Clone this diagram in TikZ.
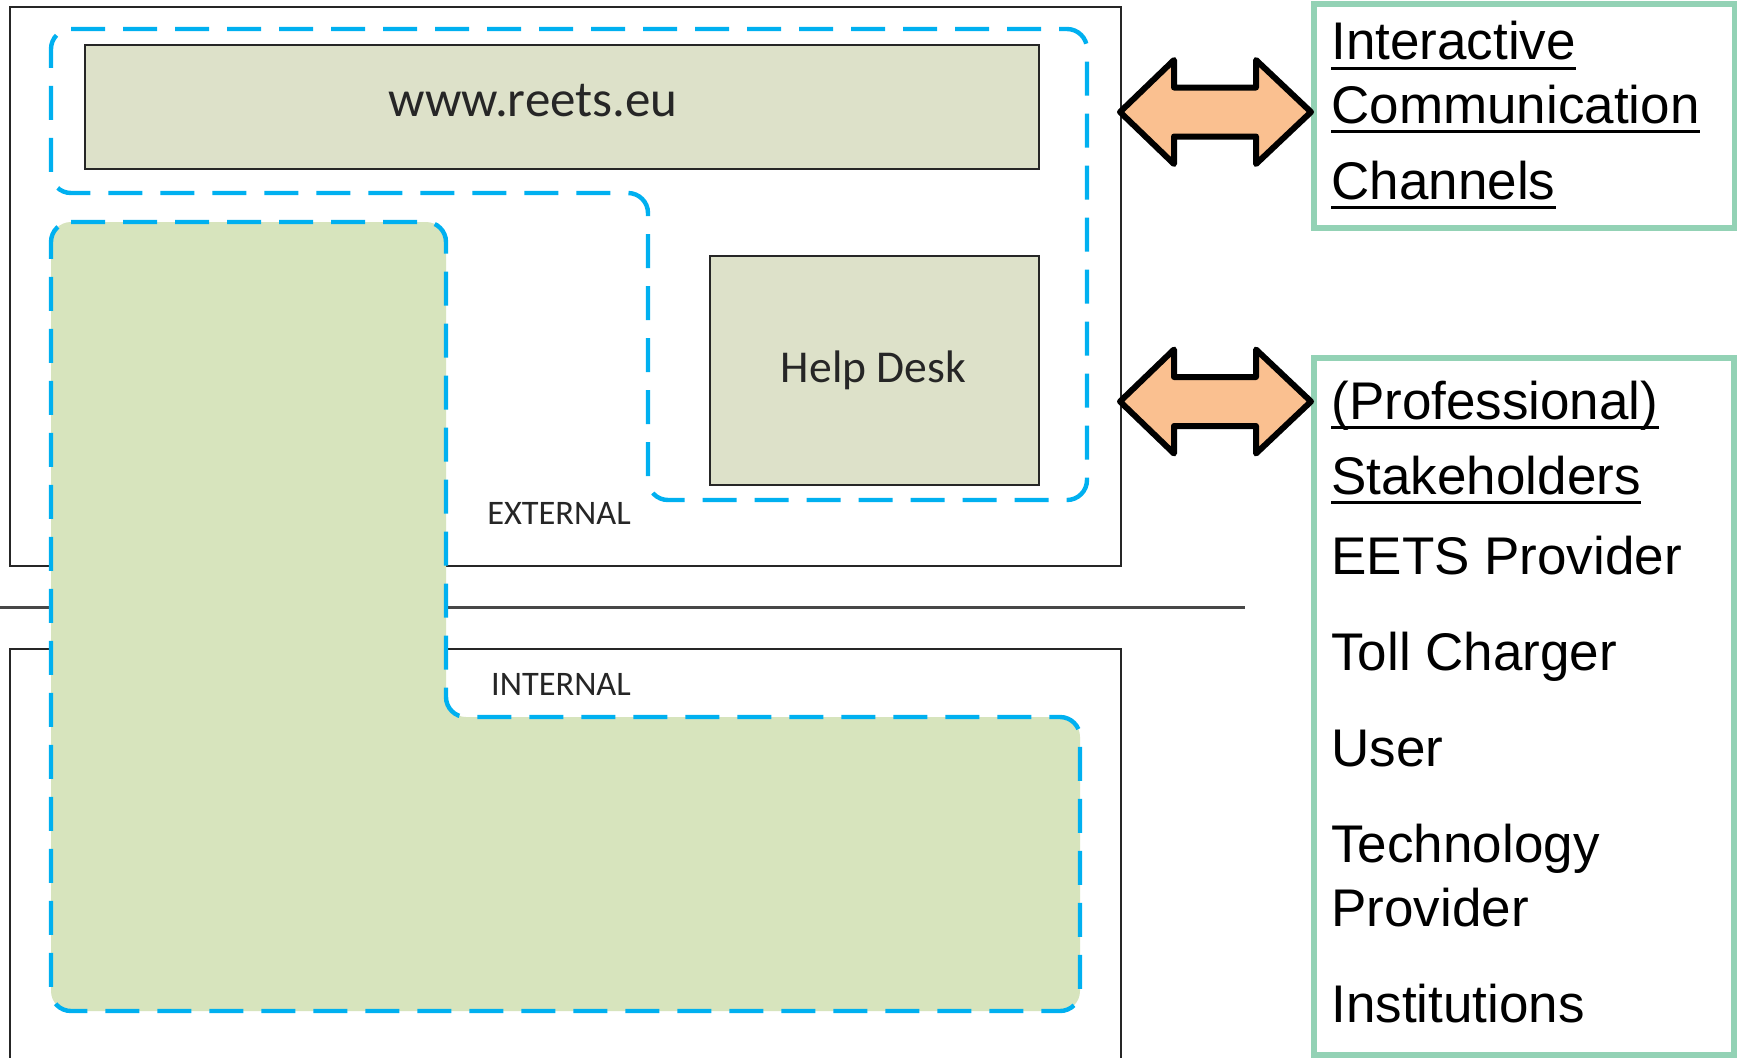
\documentclass[tikz,border=0pt]{standalone}
\usepackage{fontspec}
\setmainfont{Liberation Sans}
\newfontfamily\calib{Carlito}
\definecolor{dashblue}{HTML}{00B0F0}
\definecolor{lfill}{HTML}{D7E4BD}
\definecolor{bfill}{HTML}{DDE1C9}
\definecolor{rborder}{HTML}{93D2B5}
\definecolor{arrfill}{HTML}{FAC090}
\definecolor{framec}{HTML}{262626}
\begin{document}
\begin{tikzpicture}[x=0.5pt,y=-0.5pt,
  frameline/.style={draw=framec,line width=1pt},
  zone/.style={draw=dashblue,line width=2.2pt,dash pattern=on 17pt off 9pt,rounded corners=10pt},
  plainbox/.style={draw=framec,line width=1.2pt,fill=bfill,inner sep=0pt,anchor=north west},
  sidebox/.style={draw=rborder,line width=3.2pt,inner sep=0pt,anchor=north west},
  biarrow/.style={draw=black,line width=3pt,line join=round,fill=arrfill},
  lbl/.style={text=framec,inner sep=0pt,anchor=base},
  rtxt/.style={font=\fontsize{26.5pt}{30pt}\selectfont,inner sep=0pt,anchor=base west},
  ul/.style={line width=1.5pt}
]
\useasboundingbox (0,0) rectangle (1737,1057);
\fill[white] (0,0) rectangle (1737,1057);
% outer frames
\draw[frameline] (10,7) rectangle (1121,566);
\draw[frameline] (10,1080) -- (10,649) -- (1121,649) -- (1121,1080);
\draw[draw=framec!85,line width=1.25pt] (0,607.5) -- (1245,607.5);
% external dashed zone
\draw[zone] (51,29) -- (1087,29) -- (1087,500) -- (648,500) -- (648,193) -- (51,193) -- cycle;
% green L zone
\draw[zone,fill=lfill] (51,222) -- (446,222) -- (446,717) -- (1080,717) -- (1080,1011) -- (51,1011) -- cycle;
% boxes
\node[plainbox,minimum width=477pt,minimum height=62pt] (www) at (84,44) {};
\node[lbl,font=\calib\fontsize{25.5pt}{30pt}\selectfont] (wwwt) at (533,116.7) {www.reets.eu};
\node[plainbox,minimum width=164.5pt,minimum height=114.75pt] (hd) at (709,254.5) {};
\node[lbl,font=\calib\fontsize{22.8pt}{27pt}\selectfont] (hdt) at (873.5,382) {Help Desk};
\node[lbl,font=\calib\fontsize{17.2pt}{20pt}\selectfont] (ext) at (559,524) {EXTERNAL};
\node[lbl,font=\calib\fontsize{17.2pt}{20pt}\selectfont] (int) at (561,695.5) {INTERNAL};
% side boxes
\node[sidebox,minimum width=210.5pt,minimum height=112pt] (cb) at (1311,0.5) {};
\node[sidebox,minimum width=210pt,minimum height=348.5pt] (sb) at (1311,355) {};
% double arrows
\draw[biarrow] (1120,112) -- (1174,60) -- (1174,87.5) -- (1256,87.5) -- (1256,60) -- (1311,112)
  -- (1256,164) -- (1256,136.5) -- (1174,136.5) -- (1174,164) -- cycle;
\draw[biarrow] (1120,401.5) -- (1174,349.5) -- (1174,377) -- (1256,377) -- (1256,349.5) -- (1311,401.5)
  -- (1256,453.5) -- (1256,426) -- (1174,426) -- (1174,453.5) -- cycle;
% right texts
\node[rtxt] (t1) at (1331,59.5) {Interactive};
\node[rtxt] (t2) at (1331,123) {Communication};
\node[rtxt] (t3) at (1331,199) {Channels};
\node[rtxt] (s1) at (1331,419) {(Professional)};
\node[rtxt] (s2) at (1331,494) {Stakeholders};
\node[rtxt] (s3) at (1331,574.5) {EETS Provider};
\node[rtxt] (s4) at (1331,670.5) {Toll Charger};
\node[rtxt] (s5) at (1331,766.5) {User};
\node[rtxt] (s6) at (1331,862) {Technology};
\node[rtxt] (s7) at (1331,926) {Provider};
\node[rtxt] (s8) at (1331,1022) {Institutions};
\foreach \n in {t1,t2,t3,s1,s2}{
  \draw[ul] ([yshift=-4.4pt]\n.base west) -- ([yshift=-4.4pt]\n.base east);
}
\end{tikzpicture}
\end{document}
